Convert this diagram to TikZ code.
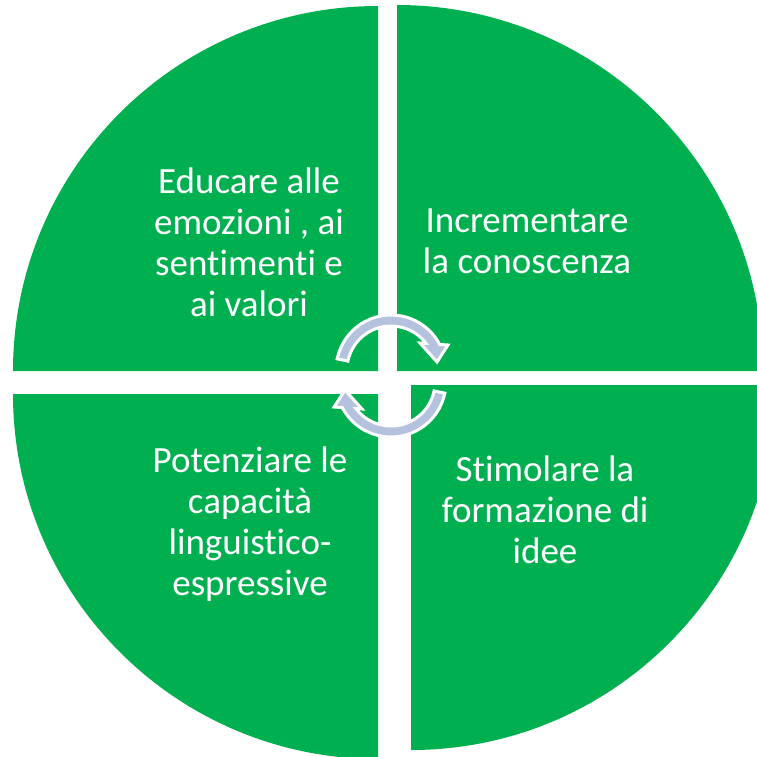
\documentclass[tikz,border=0pt]{standalone}
\usepackage{fontspec}
\setmainfont{Carlito}[Ligatures=NoCommon]
\usetikzlibrary{calc}
\definecolor{qgreen}{RGB}{0,176,80}
\definecolor{arrowblue}{RGB}{180,194,222}
\begin{document}
\begin{tikzpicture}[x=1pt,y=-1pt,
  quad/.style={fill=qgreen,draw=none},
  cyc/.style={fill=arrowblue,draw=white,line width=3pt,line join=miter},
  lbl/.style={text=white,font=\fontsize{37}{41}\selectfont,align=center,inner sep=0pt,anchor=base}]
\useasboundingbox (0,0) rectangle (757,756);
\fill[white] (0,0) rectangle (757,756);
\clip (0,0) rectangle (757,756);
% quadrant centres
\coordinate (ctl) at (378,371);
\coordinate (ctr) at (397,371);
\coordinate (cbr) at (411,385);
\coordinate (cbl) at (378,394);
% quadrants
\fill[quad] (ctl) -- ++(180:365) arc[start angle=180,end angle=270,radius=365] -- cycle;
\fill[quad] (ctr) -- ++(270:366) arc[start angle=270,end angle=360,radius=366] -- cycle;
\fill[quad] (cbr) -- ++(0:365) arc[start angle=0,end angle=90,radius=365] -- cycle;
\fill[quad] (cbl) -- ++(90:365) arc[start angle=90,end angle=180,radius=365] -- cycle;
% circular arrows
\coordinate (cu) at (391,370);
\coordinate (cl) at (391,382);
\draw[cyc] ($(cu)+(191.7:55)$) arc[start angle=191.7,end angle=332.3,radius=55]
  -- (448,345) -- (437,362) -- (420,343) -- ($(cu)+(322.8:44)$)
  arc[start angle=322.8,end angle=191.7,radius=44] -- cycle;
\draw[cyc] ($(cl)+(11.7:55)$) arc[start angle=11.7,end angle=152.3,radius=55]
  -- (334,407) -- (345,390) -- (362,409) -- ($(cl)+(142.8:44)$)
  arc[start angle=142.8,end angle=11.7,radius=44] -- cycle;
% labels
\node[lbl] (tl) at (249,316) {Educare alle\\emozioni , ai\\sentimenti e\\ai valori};
\node[lbl] (tr) at (527,273) {Incrementare\\la conoscenza};
\node[lbl] (br) at (545,563) {Stimolare la\\formazione di\\idee};
\node[lbl] (bl) at (250,595) {Potenziare le\\capacità\\linguistico-\\espressive};
\end{tikzpicture}
\end{document}
